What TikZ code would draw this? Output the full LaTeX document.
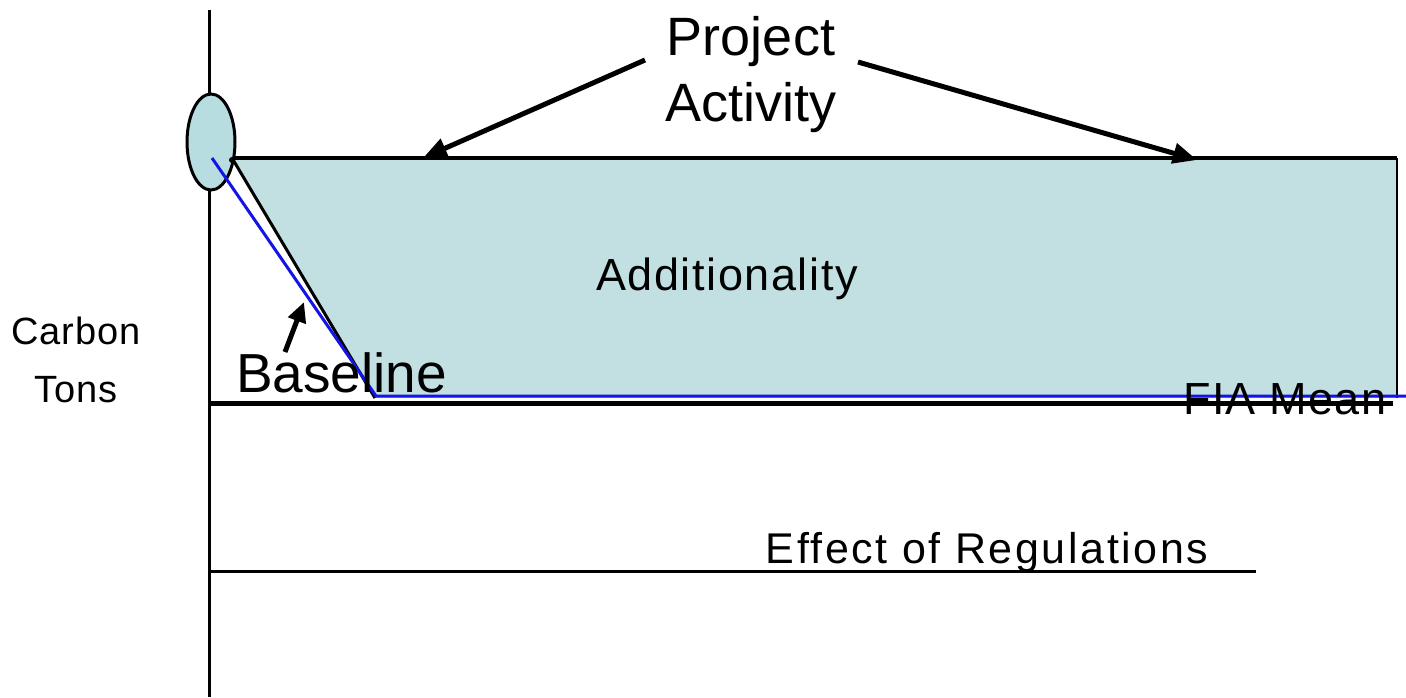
\documentclass[tikz,border=0pt]{standalone}
\usepackage{fontspec}
\setmainfont{Liberation Sans}
\usetikzlibrary{arrows.meta,shapes.geometric}
\definecolor{areafill}{RGB}{194,223,225}
\definecolor{blobfill}{RGB}{184,221,224}
\definecolor{baseblue}{RGB}{20,20,230}

\begin{document}
\begin{tikzpicture}[x=1pt,y=-1pt,
  lbl/.style={inner sep=0pt,font=\fontsize{38}{44}\selectfont},
  big/.style={inner sep=0pt,font=\fontsize{54}{66}\selectfont,align=center},
  pointer/.style={line width=5pt,-{Triangle[length=24pt,width=20pt]}}]
\useasboundingbox (0,0) rectangle (1406,697);
\begin{scope}
% shaded additionality area
\coordinate (tl) at (232,158);
\coordinate (tr) at (1397,158);
\coordinate (br) at (1397,398);
\coordinate (knee) at (375,398);
\path[fill=areafill] (tl) -- (tr) -- (br) -- (knee) -- cycle;
\path[draw,line width=4.5pt] (tl) -- (tr);
\path[draw,line width=2.5pt] (tr) -- (br);
\path[draw,line width=3pt] (tl) -- (knee);

% axes and levels
\coordinate (ytop) at (209,10);
\coordinate (ybot) at (209,697);
\coordinate (m0) at (209,403);
\coordinate (m1) at (1393,403);
\coordinate (r0) at (209,571);
\coordinate (r1) at (1256,571);
\path[draw,line width=3pt] (ytop) -- (ybot);
\path[draw,line width=5pt] (m0) -- (m1);
\path[draw,line width=3pt] (r0) -- (r1);

% start blob
\node[draw,ellipse,line width=3pt,fill=blobfill,minimum width=48pt,minimum height=96pt,inner sep=0pt] (blob) at (211,142) {};
\fill (232,160) circle (3pt);

% baseline
\coordinate (b0) at (212,158);
\coordinate (b1) at (376,396);
\coordinate (b2) at (1406,396);
\path[draw,baseblue,line width=3pt] (b0) -- (b1) -- (b2);

% labels
\node[big] (proj) at (751,75) {Project\\Activity};
\node[lbl,font=\fontsize{45}{50}\selectfont\addfontfeature{LetterSpace=3.5}] (add) at (727,279) {Additionality};
\node[lbl,align=center,font=\fontsize{38}{58}\selectfont\addfontfeature{LetterSpace=2}] (ct) at (76,360) {Carbon\\Tons};
\node[big,anchor=base west,font=\fontsize{55}{66}\selectfont] (base) at (236,392) {Baseline};
\node[lbl,anchor=base west,font=\fontsize{45}{50}\selectfont\addfontfeature{LetterSpace=3}] (fia) at (1183,414) {FIA Mean};
\node[lbl,font=\fontsize{43}{50}\selectfont\addfontfeature{LetterSpace=6}] (reg) at (987,552) {Effect of Regulations};

% pointers
\coordinate (p0) at (645,60);
\coordinate (p1) at (423,158);
\coordinate (q0) at (858,62);
\coordinate (q1) at (1197,160);
\coordinate (s0) at (285,352);
\coordinate (s1) at (304,302);
\path[draw,pointer] (p0) -- (p1);
\path[draw,pointer] (q0) -- (q1);
\path[draw,pointer,-{Triangle[length=20pt,width=18pt]}] (s0) -- (s1);
\end{scope}
\end{tikzpicture}
\end{document}
